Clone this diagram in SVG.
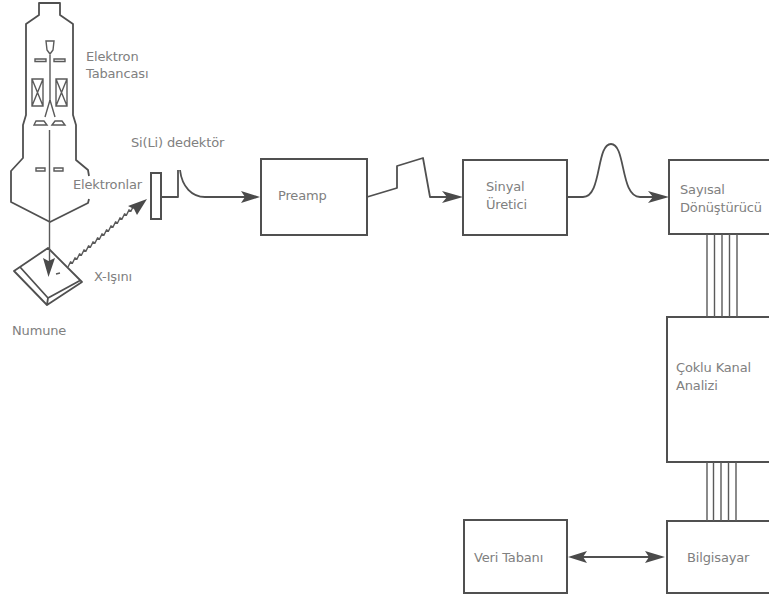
<svg xmlns="http://www.w3.org/2000/svg" width="769" height="597" viewBox="0 0 769 597">
<style>
.l{fill:none;stroke:#505050;stroke-width:1.8;stroke-linejoin:round}
.b{fill:#fff;stroke:#505050;stroke-width:2}
.t{fill:none;stroke:#5a5a5a;stroke-width:1.4}
.h{fill:#4a4a4a;stroke:none}
text{font-family:"DejaVu Sans",sans-serif;font-size:13px;fill:#808080;letter-spacing:-0.15px}
</style>
<rect width="769" height="597" fill="#fff"/>
<g id="gun">
<path class="l" d="M89 176L88 170L76 160V125L73 115V24L60 15V3H39V15L26 24V115L23 125V158L11 171V202L50 222L88 203L89 199"/>
<path class="t" d="M46 41H54L53 50L50 54L47 50Z"/>
<path class="t" d="M35 59H46V61.500H35ZM54 59H65V61.500H54Z"/>
<path class="t" d="M50 55V100M50 100L45 117M50 100L55 117"/>
<path class="t" d="M32 79H43V106H32ZM32 79L43 106M43 79L32 106M56 79H67V106H56ZM56 79L67 106M67 79L56 106"/>
<path class="t" d="M34 125L36 121H44L47 125ZM52 125L55 121H62L65 125Z"/>
<path class="t" d="M36 168H45V171H36ZM54 168H63V171H54Z"/>
<text x="86" y="61">Elektron</text>
<text x="86" y="78">Tabancası</text>
</g>
<g id="sample">
<path class="l" d="M48 248L14 271L47 305L82 282ZM20 267L48 298L81 280M48 298L47 305"/>
<text x="12" y="335">Numune</text>
</g>
<g id="detector">
<rect class="b" x="151" y="173" width="10" height="46"/>
<text x="131" y="147">Si(Li) dedektör</text>
</g>
<g id="preamp">
<rect class="b" x="261" y="159" width="106" height="76"/>
<text x="278" y="200">Preamp</text>
</g>
<g id="sinyal">
<rect class="b" x="463" y="160" width="104" height="75"/>
<text x="486" y="191">Sinyal</text>
<text x="486" y="209">Üretici</text>
</g>
<g id="sayisal">
<path class="b" d="M769 160H669V234H769"/>
<text x="680" y="194">Sayısal</text>
<text x="680" y="212">Dönüştürücü</text>
</g>
<g id="coklu">
<path class="b" d="M769 317H667V462H769"/>
<text x="676" y="372">Çoklu Kanal</text>
<text x="676" y="390">Analizi</text>
</g>
<g id="bilgisayar">
<path class="b" d="M769 521H667V593H769"/>
<text x="687" y="562">Bilgisayar</text>
</g>
<g id="veri">
<rect class="b" x="464" y="520" width="103" height="73"/>
<text x="474" y="562">Veri Tabanı</text>
</g>
<g id="connectors">
<path class="t" d="M49.500 130V262"/>
<path class="h" d="M48.500 277L43 258L48.500 261L55 258Z"/>
<path class="t" d="M56 274L60 273M68 267l2.500-5 2 1 2.500-5 2 1 2.500-5 2 1 2.500-5 2 1 2.500-5 2 1 2.500-5 2 1 2.500-5 2 1 2.500-5 2 1 2.500-5 2 1 2.500-5 2 1 2.500-5 2 1 2.500-5 2 1 2.500-5 2 1 2.500-5 2 1 2.500-5 2 1"/>
<path class="h" d="M147 199L128 206L134 209L137 215Z"/>
<path class="l" d="M161 197H178V170M180 170C182 187 192 197 205 197H245"/>
<path class="h" d="M260 197L241 191L245 197L241 203Z"/>
<path class="l" d="M367 197L397 188V166L423 158L430 197H448"/>
<path class="h" d="M463 197L442 191L447 197L442 203Z"/>
<path class="l" d="M567 197H583C602 197 596 144 611 144C626 144 620 197 640 197H655"/>
<path class="h" d="M669 197L648 191L653 197L648 203Z"/>
<path class="t" d="M707 234V317M714.500 234V317M722 234V317M729.500 234V317M737 234V317"/>
<path class="t" d="M707 462V521M713.500 462V521M721 462V521M728.500 462V521M736 462V521"/>
<path class="l" d="M575 557H660"/>
<path class="h" d="M568 557L587 551L583 557L587 563Z"/>
<path class="h" d="M665 557L645 551L649 557L645 563Z"/>
</g>
<g id="labels">
<text x="73" y="189">Elektronlar</text>
<text x="94" y="281">X-Işını</text>
</g>
</svg>
